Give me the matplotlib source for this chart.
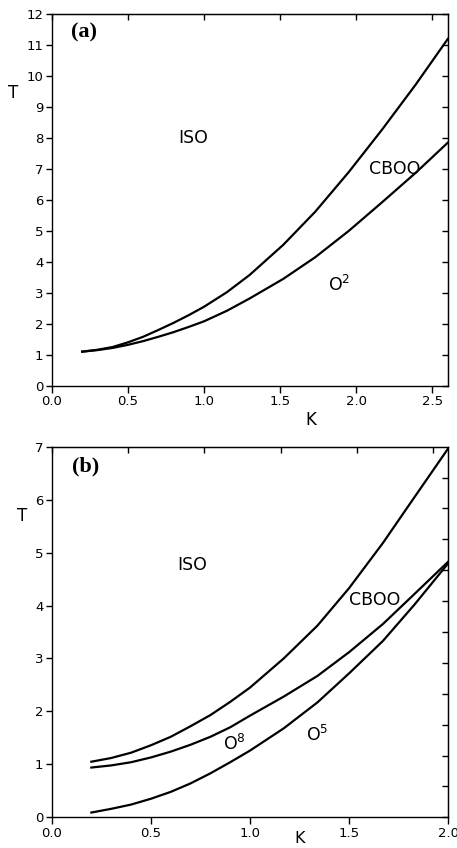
import numpy as np
import matplotlib
matplotlib.use("Agg")
import matplotlib.pyplot as plt

# panel (a): phase boundaries
ka = [0.2, 0.3, 0.4, 0.5, 0.6, 0.7, 0.8, 0.9, 1.0, 1.15, 1.3, 1.52, 1.73, 1.95, 2.17, 2.39, 2.6]
iso_cboo_a = [1.10, 1.16, 1.25, 1.40, 1.58, 1.80, 2.03, 2.28, 2.55, 3.02, 3.58, 4.55, 5.62, 6.90, 8.28, 9.73, 11.2]
cboo_o2_a = [1.10, 1.15, 1.22, 1.32, 1.44, 1.58, 1.73, 1.90, 2.08, 2.42, 2.82, 3.45, 4.15, 5.00, 5.93, 6.88, 7.85]

# panel (b)
kb = [0.2, 0.3, 0.4, 0.5, 0.6, 0.7, 0.8, 0.9, 1.0, 1.17, 1.34, 1.5, 1.67, 1.83, 2.0]
iso_cboo_b = [1.05, 1.12, 1.22, 1.36, 1.52, 1.72, 1.93, 2.18, 2.45, 3.00, 3.62, 4.33, 5.18, 6.05, 6.97]
cboo_o8_b = [0.94, 0.98, 1.04, 1.13, 1.24, 1.37, 1.52, 1.70, 1.92, 2.28, 2.67, 3.12, 3.65, 4.22, 4.83]
o8_o5_b = [0.09, 0.16, 0.24, 0.35, 0.48, 0.64, 0.83, 1.04, 1.26, 1.68, 2.17, 2.72, 3.33, 4.02, 4.80]

W, H = 457, 848
fig = plt.figure(figsize=(W / 100, H / 100), dpi=100)
fig.patch.set_facecolor("white")

tickfont = dict(family="DejaVu Sans", size=9.5)
lw = 1.6


def frame(ax, xmax, ymax, xt_top, yt_right):
    ax.set_xlim(0, xmax)
    ax.set_ylim(0, ymax)
    ax.set_xticks(np.arange(0, xmax + 0.01, 0.5))
    ax.set_yticks(np.arange(0, ymax + 0.01, 1))
    ax.set_xticklabels(["%.1f" % v for v in ax.get_xticks()], **tickfont)
    ax.set_yticklabels(["%d" % v for v in ax.get_yticks()], **tickfont)
    ax.tick_params(axis="x", direction="out", length=5, width=1, pad=2)
    ax.tick_params(axis="y", direction="out", length=4, width=1, pad=2)
    for s in ax.spines.values():
        s.set_linewidth(1.0)
    # inward ticks on top and right
    top = ax.secondary_xaxis("top")
    top.set_xticks(xt_top)
    top.set_xticklabels([])
    top.tick_params(direction="in", length=4, width=1)
    right = ax.secondary_yaxis("right")
    right.set_yticks(yt_right)
    right.set_yticklabels([])
    right.tick_params(direction="in", length=4, width=1)


# ---- (a)
ax1 = fig.add_axes([51.7 / W, 1 - 385.7 / H, 396 / W, 371.4 / H])
frame(ax1, 2.6, 12, np.arange(0, 2.61, 0.5), np.arange(0, 12.01, 1))
ax1.plot(ka, iso_cboo_a, color="black", lw=lw)
ax1.plot(ka, cboo_o2_a, color="black", lw=lw)
ax1.text(0.13, 11.4, "(a)", family="Liberation Serif", weight="bold", size=16, va="center")
ax1.text(0.93, 8.0, "ISO", size=12.5, ha="center", va="center")
ax1.text(2.25, 7.0, "CBOO", size=12.5, ha="center", va="center")
ax1.text(1.89, 3.25, "O$^2$", size=12.5, ha="center", va="center")
ax1.set_xlabel("K", size=12)
ax1.xaxis.set_label_coords(0.655, -0.068)
ax1.set_ylabel("T", size=12, rotation=0, ha="center", va="center")
ax1.yaxis.set_label_coords(-0.098, 0.788)

# ---- (b)
ax2 = fig.add_axes([51.7 / W, 1 - 817.3 / H, 396.6 / W, 370.6 / H])
frame(ax2, 2.0, 7, np.arange(0, 2.01, 0.5 * 2.0 / 2.6), np.arange(0, 7.0, 7 / 12))
ax2.plot(kb, iso_cboo_b, color="black", lw=lw)
ax2.plot(kb, cboo_o8_b, color="black", lw=lw)
ax2.plot(kb, o8_o5_b, color="black", lw=lw)
ax2.text(0.1, 6.62, "(b)", family="Liberation Serif", weight="bold", size=16, va="center")
ax2.text(0.71, 4.76, "ISO", size=12.5, ha="center", va="center")
ax2.text(1.63, 4.1, "CBOO", size=12.5, ha="center", va="center")
ax2.text(0.92, 1.38, "O$^8$", size=12.5, ha="center", va="center")
ax2.text(1.34, 1.56, "O$^5$", size=12.5, ha="center", va="center")
ax2.set_xlabel("K", size=11.5)
ax2.xaxis.set_label_coords(0.626, -0.038)
ax2.set_ylabel("T", size=12, rotation=0, ha="center", va="center")
ax2.yaxis.set_label_coords(-0.075, 0.814)

fig.savefig("out.png", dpi=100)
